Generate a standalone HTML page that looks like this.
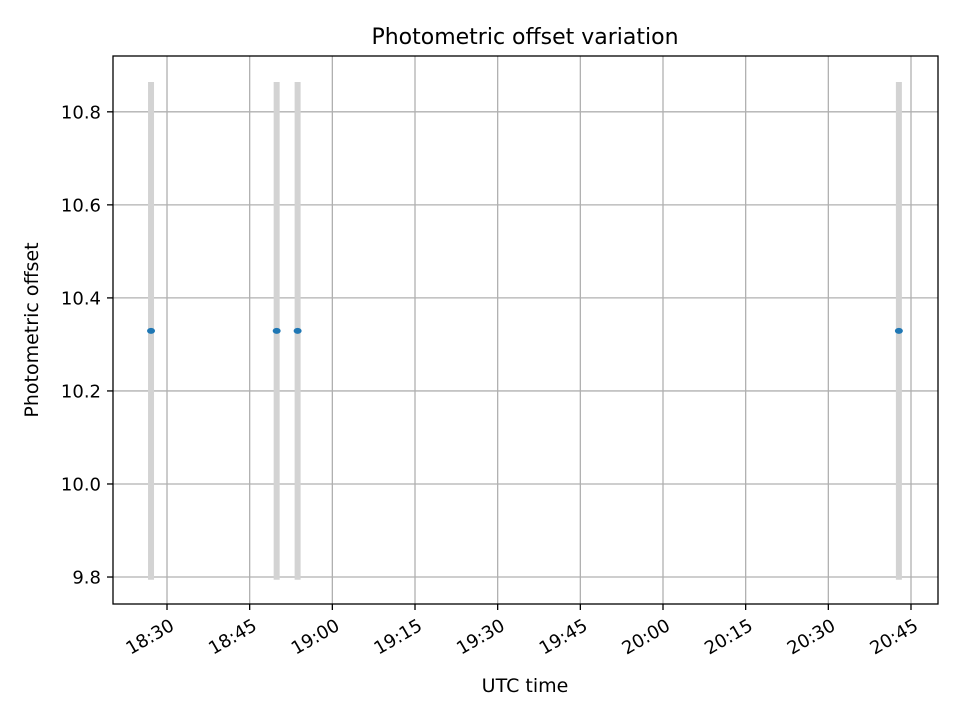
<!DOCTYPE html>
<html><head><meta charset="utf-8"><style>body{margin:0;background:#fff}svg{font-family:"DejaVu Sans","Liberation Sans",sans-serif}</style></head>
<body>
<svg id="chart" width="960" height="720" viewBox="0 0 960 720" xmlns="http://www.w3.org/2000/svg">
<rect width="960" height="720" fill="#fff"/>
<g id="grid"></g><g id="marks"></g><g id="axes"></g>
<text x="525" y="44" font-size="22" text-anchor="middle">Photometric offset variation</text>
<text x="525" y="692" font-size="19" text-anchor="middle">UTC time</text>
<text transform="translate(38,330) rotate(-90)" font-size="19" text-anchor="middle">Photometric offset</text>
</svg>
<script>
const times = ["18:27.1","18:49.9","18:53.7","20:42.8"];
const offsets = [10.329,10.329,10.329,10.329];
const errors = [0.535,0.535,0.535,0.535];
const xTickLabels = ["18:30","18:45","19:00","19:15","19:30","19:45","20:00","20:15","20:30","20:45"];
const yTickLabels = ["9.8","10.0","10.2","10.4","10.6","10.8"];

const L=113,R=938,T=56,B=604;
function toMin(s){const [h,m]=s.split(":");return +h*60+parseFloat(m);}
const xMin=toMin("18:20.2"),xMax=toMin("20:49.9"),yMin=9.742,yMax=10.92;
const xs=v=>L+(v-xMin)/(xMax-xMin)*(R-L);
const ys=v=>B-(v-yMin)/(yMax-yMin)*(B-T);
const NS="http://www.w3.org/2000/svg";
function mk(tag,attrs,parent){const e=document.createElementNS(NS,tag);for(const k in attrs)e.setAttribute(k,attrs[k]);document.getElementById(parent).appendChild(e);return e;}

xTickLabels.forEach(t=>{const x=xs(toMin(t));
 const g=mk("line",{x1:x,x2:x,y1:T,y2:B,stroke:"#b0b0b0","stroke-width":1.3},"grid");
 
 
 const tk=mk("line",{x1:x,x2:x,y1:B,y2:B+6,stroke:"#000","stroke-width":1.3},"axes");
 
 
 const lb=mk("text",{transform:`translate(${x+2},${B+14}) rotate(-30)`,"font-size":18,"text-anchor":"end","dominant-baseline":"hanging"},"axes");
 
 
 lb.textContent=t;});
yTickLabels.forEach(t=>{const y=ys(+t);
 const g=mk("line",{x1:L,x2:R,y1:y,y2:y,stroke:"#b0b0b0","stroke-width":1.3},"grid");
 
 
 const tk=mk("line",{x1:L-6,x2:L,y1:y,y2:y,stroke:"#000","stroke-width":1.3},"axes");
 
 
 const lb=mk("text",{x:L-12,y:y+6.5,"font-size":18,"text-anchor":"end"},"axes");
 
 
 lb.textContent=t;});
times.forEach((t,i)=>{const x=xs(toMin(t));
 const eb=mk("line",{x1:x,x2:x,y1:ys(offsets[i]+errors[i]),y2:ys(offsets[i]-errors[i]),stroke:"#d3d3d3","stroke-width":6},"marks");
 
 
 const p=mk("ellipse",{cx:x,cy:ys(offsets[i]),rx:4,ry:3,fill:"#1f77b4"},"marks");
 
 });
const fr=mk("rect",{x:L,y:T,width:R-L,height:B-T,fill:"none",stroke:"#000","stroke-width":1.3},"axes");


</script>
</body></html>
